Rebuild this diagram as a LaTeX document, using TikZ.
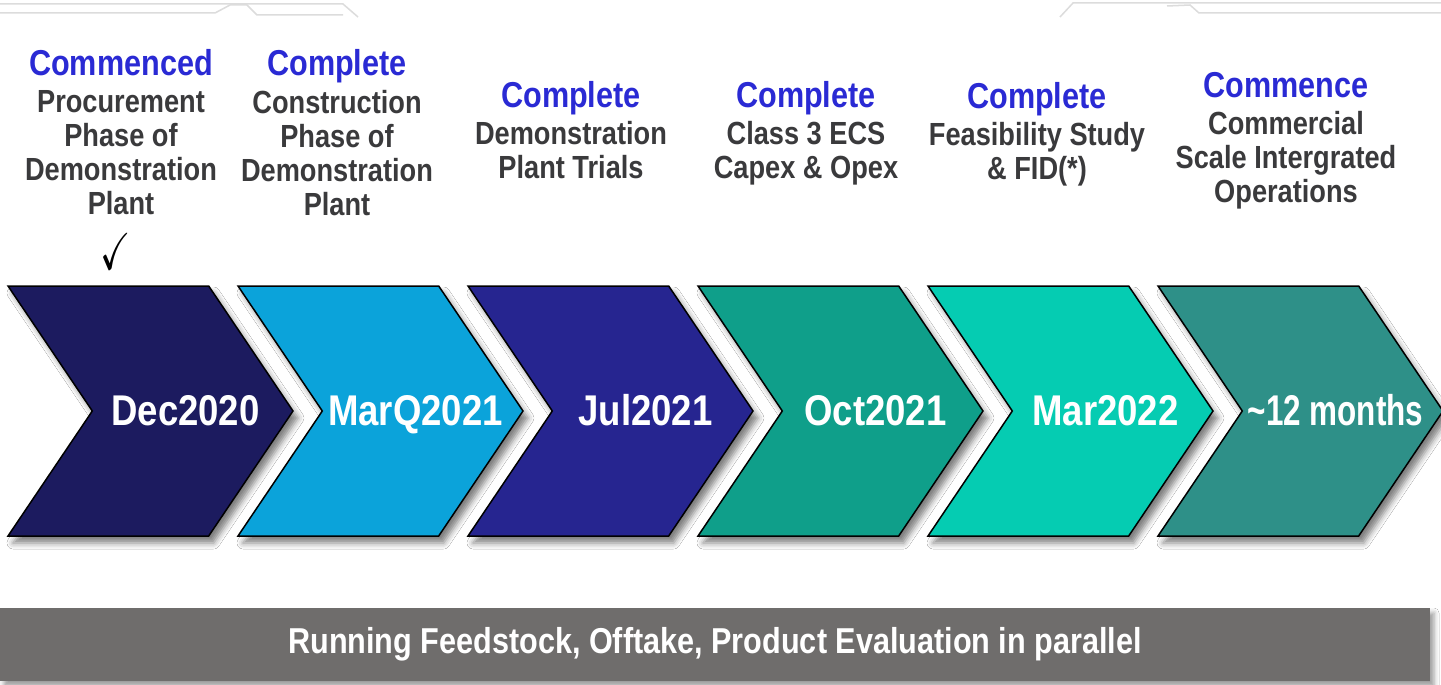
\documentclass[tikz,border=0pt]{standalone}
\usepackage{fontspec}
\usepackage{amssymb}
\usepackage{graphicx}
\setmainfont{Liberation Sans}[FakeStretch=0.85]
\usetikzlibrary{positioning,shapes.symbols,shadows.blur}
\definecolor{chevA}{HTML}{1C1B5F}
\definecolor{chevB}{HTML}{0BA3DA}
\definecolor{chevC}{HTML}{262590}
\definecolor{chevD}{HTML}{0F9F8A}
\definecolor{chevE}{HTML}{05CCB2}
\definecolor{chevF}{HTML}{2E9088}
\definecolor{headblue}{HTML}{2A2AD4}
\definecolor{descgray}{HTML}{3A3A3C}
\definecolor{bargray}{HTML}{6F6D6C}
\definecolor{linegray}{HTML}{DCDCDC}
\tikzset{
  chev/.style={signal, signal to=east, signal from=west, signal pointer angle=112,
    draw=black, line width=1.5pt, minimum width=285pt, minimum height=250pt, inner sep=0pt,
    blur shadow={shadow xshift=5pt, shadow yshift=-7pt, shadow blur radius=6pt, shadow opacity=50}},
  date/.style={text=white, font=\bfseries\fontsize{43}{43}\selectfont, inner sep=0pt, anchor=base},
  head/.style={text=headblue, font=\bfseries\fontsize{36}{40}\selectfont, anchor=base, inner sep=0pt},
  descr/.style={text=descgray, font=\bfseries\fontsize{32}{34}\selectfont, align=center, inner sep=0pt},
  bar/.style={fill=bargray, minimum width=1430pt, minimum height=73pt, inner sep=0pt,
    text=white, font=\bfseries\fontsize{36}{36}\selectfont,
    blur shadow={shadow xshift=4pt, shadow yshift=-5pt, shadow blur radius=5pt, shadow opacity=40}},
}

\begin{document}
\begin{tikzpicture}[x=1pt, y=-1pt, node distance=230pt]
  \useasboundingbox[fill=white] (0,0) rectangle (1441,685);
  % faint header lines
  \draw[linegray, line width=1.5pt] (0,4) -- (343,4) -- (358,17);
  \draw[linegray, line width=1.5pt] (0,13) -- (215,13) -- (230,5) -- (247,5) -- (257,15) -- (343,15);
  \draw[linegray, line width=1.5pt] (1060,17) -- (1073,3) -- (1441,3);
  \draw[linegray, line width=1.5pt] (1167,6) -- (1190,5) -- (1199,13) -- (1441,13);

  % chevrons
  \node[chev, fill=chevA] (c1) at (150.5,411) {};
  \node[chev, fill=chevB] (c2) [right of=c1] {};
  \node[chev, fill=chevC] (c3) [right of=c2] {};
  \node[chev, fill=chevD] (c4) [right of=c3] {};
  \node[chev, fill=chevE] (c5) [right of=c4] {};
  \node[chev, fill=chevF] (c6) [right of=c5] {};

  \node[date] (t1) at ([xshift=35pt,yshift=-14pt]c1.center) {Dec2020};
  \node[date] (t2) at ([xshift=35pt,yshift=-14pt]c2.center) {MarQ2021};
  \node[date] (t3) at ([xshift=35pt,yshift=-14pt]c3.center) {Jul2021};
  \node[date] (t4) at ([xshift=35pt,yshift=-14pt]c4.center) {Oct2021};
  \node[date] (t5) at ([xshift=35pt,yshift=-14pt]c5.center) {Mar2022};
  \node[date] (t6) at ([xshift=35pt,yshift=-14pt]c6.center) {\scalebox{0.86}[1]{\textasciitilde12 months}};

  % milestones
  \node[head] (h1) at (121,76) {Commenced};
  \node[descr] (d1) [below=14pt of h1.base] {Procurement\\Phase of\\Demonstration\\Plant};
  \node[head] (h2) at (337,76) {Complete};
  \node[descr] (d2) [below=14pt of h2.base] {Construction\\Phase of\\Demonstration\\Plant};
  \node[head] (h3) at (571,107) {Complete};
  \node[descr] (d3) [below=14pt of h3.base] {Demonstration\\Plant Trials};
  \node[head] (h4) at (806,107) {Complete};
  \node[descr] (d4) [below=14pt of h4.base] {Class 3 ECS\\Capex \& Opex};
  \node[head] (h5) at (1037,108) {Complete};
  \node[descr] (d5) [below=14pt of h5.base] {Feasibility Study\\\& FID(*)};
  \node[head] (h6) at (1286,97) {Commence};
  \node[descr] (d6) [below=14pt of h6.base] {Commercial\\Scale Intergrated\\Operations};

  \node[inner sep=0pt, font=\fontsize{52}{52}\selectfont] (tick) at (116,251) {\scalebox{0.7}[1]{$\checkmark$}};

  \node[bar] (run) at (715,644.5) {Running Feedstock, Offtake, Product Evaluation in parallel};
\end{tikzpicture}
\end{document}
